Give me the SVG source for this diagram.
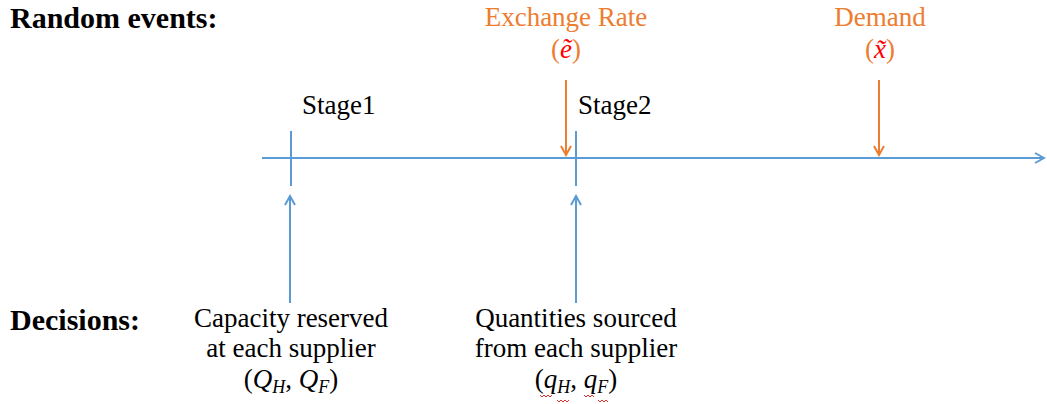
<svg xmlns="http://www.w3.org/2000/svg" width="1047" height="404" viewBox="0 0 1047 404">
<style>
text{font-family:"Liberation Serif","DejaVu Serif",serif;font-size:27px;fill:#000}
.b{font-weight:bold;font-size:30px}
.o{fill:#ED7D31}
.r{fill:#FF0000;font-style:italic}
.i{font-style:italic}
.s{font-style:italic;font-size:18px}
.c{text-anchor:middle}
.bl{stroke:#5B9BD5;stroke-width:2;fill:none}
.or{stroke:#ED7D31;stroke-width:2;fill:none}
.sq{stroke:#E03030;stroke-width:1;fill:none}
</style>
<defs>
<marker id="ab" markerWidth="12" markerHeight="12" refX="10" refY="6" orient="auto" markerUnits="userSpaceOnUse">
<path d="M1,1 L10,6 L1,11" stroke="#5B9BD5" stroke-width="2" fill="none"/>
</marker>
<marker id="ao" markerWidth="12" markerHeight="12" refX="10" refY="6" orient="auto" markerUnits="userSpaceOnUse">
<path d="M1,1 L10,6 L1,11" stroke="#ED7D31" stroke-width="2" fill="none"/>
</marker>
</defs>
<g id="labels">
<text class="b" x="10" y="28">Random events:</text>
<text class="b" x="10" y="330">Decisions:</text>
</g>
<g id="stage1">
<text x="302" y="114">Stage1</text>
<line class="bl" x1="291" y1="131" x2="291" y2="186"/>
</g>
<g id="stage2">
<text x="578" y="114">Stage2</text>
<line class="bl" x1="576" y1="131" x2="576" y2="186"/>
</g>
<g id="exchange">
<text class="o c" x="566" y="26">Exchange Rate</text>
<text class="o c" x="566" y="58">(<tspan class="r">ẽ</tspan>)</text>
</g>
<g id="demand">
<text class="o c" x="880" y="26">Demand</text>
<text class="o c" x="880" y="58">(<tspan class="r">x̃</tspan>)</text>
</g>
<g id="decision1">
<text class="c" x="291" y="327">Capacity reserved</text>
<text class="c" x="291" y="357">at each supplier</text>
<text class="c" x="291" y="388">(<tspan class="i">Q</tspan><tspan class="s" dy="5">H</tspan><tspan dy="-5">, </tspan><tspan class="i">Q</tspan><tspan class="s" dy="5">F</tspan><tspan dy="-5">)</tspan></text>
</g>
<g id="decision2">
<text class="c" x="576" y="327">Quantities sourced</text>
<text class="c" x="576" y="357">from each supplier</text>
<text class="c" x="576" y="388">(<tspan class="i">q</tspan><tspan class="s" dy="5">H</tspan><tspan dy="-5">, </tspan><tspan class="i">q</tspan><tspan class="s" dy="5">F</tspan><tspan dy="-5">)</tspan></text>
<path class="sq" d="M540,395 l2,2 l2,-2 l2,2 l2,-2 l2,2 l2,-2 M557,400 l2,2 l2,-2 l2,2 l2,-2 l2,2 l2,-2 M584,395 l2,2 l2,-2 l2,2 l2,-2 l2,2 M598,400 l2,2 l2,-2 l2,2 l2,-2 l2,2"/>
</g>
<g id="connectors">
<line class="bl" x1="262" y1="158" x2="1044" y2="158" marker-end="url(#ab)"/>
<line class="or" x1="566" y1="80" x2="566" y2="155" marker-end="url(#ao)"/>
<line class="or" x1="879" y1="80" x2="879" y2="155" marker-end="url(#ao)"/>
<line class="bl" x1="290" y1="303" x2="290" y2="196" marker-end="url(#ab)"/>
<line class="bl" x1="576" y1="303" x2="576" y2="196" marker-end="url(#ab)"/>
</g>
</svg>
